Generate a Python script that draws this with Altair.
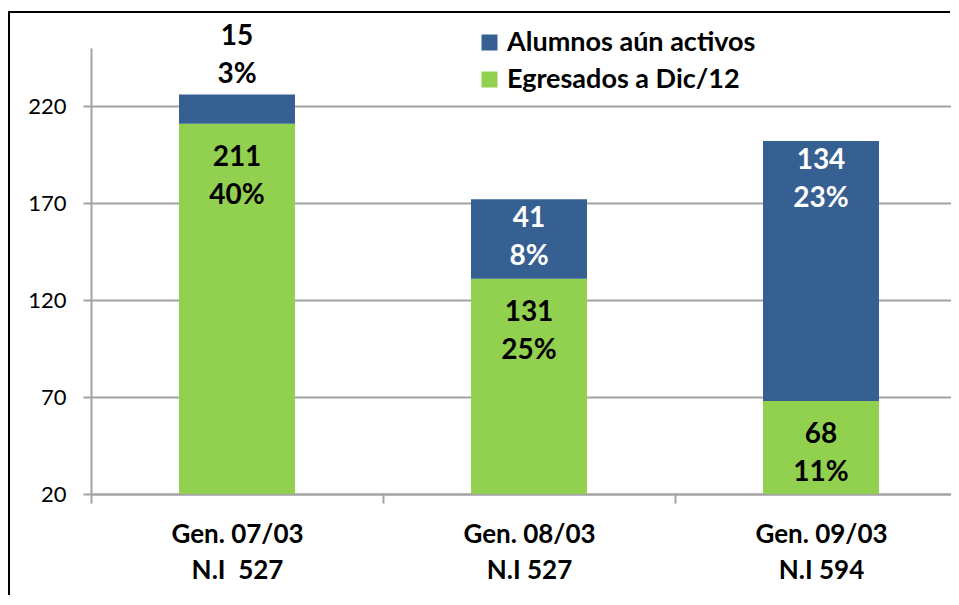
import altair as alt
import pandas as pd

# ---- data ----
generaciones = ["Gen. 07/03", "Gen. 08/03", "Gen. 09/03"]
ingreso = ["N.I\u00a0\u00a0527", "N.I 527", "N.I 594"]
series = ["Egresados a Dic/12", "Alumnos aún activos"]
egresados = [211, 131, 68]
egresados_pct = ["40%", "25%", "11%"]
activos = [15, 41, 134]
activos_pct = ["3%", "8%", "23%"]
y_ticks = [20, 70, 120, 170, 220]

BLUE = "#376092"
GREEN = "#92D050"
GRID = "#A3A3A3"
FONT = "Lato"

W, H = 860, 446
PAD = {"left": 83, "top": 40, "right": 0, "bottom": 102}

rows = []
for i, g in enumerate(generaciones):
    cat = g + "|" + ingreso[i]
    rows.append({"cat": cat, "serie": series[0], "ord": 0,
                 "value": egresados[i], "pct": egresados_pct[i]})
    rows.append({"cat": cat, "serie": series[1], "ord": 1,
                 "value": activos[i], "pct": activos_pct[i]})
df = pd.DataFrame(rows)
cats = [g + "|" + ingreso[i] for i, g in enumerate(generaciones)]

base = alt.Chart(df).transform_stack(
    stack="value", groupby=["cat"], sort=[alt.SortField("ord")], as_=["v0", "v1"]
).transform_calculate(
    lbl="datum.value + '\\n' + datum.pct"
)

x_enc = alt.X("cat:N", sort=cats, title=None,
              scale=alt.Scale(range=[0, 876], paddingInner=0, paddingOuter=0),
              axis=alt.Axis(labelExpr="split(datum.label, '|')", labelAngle=0,
                            labelFont=FONT, labelFontSize=26, labelFontWeight="bold",
                            labelColor="black", labelLineHeight=36, labelPadding=18,
                            tickBand="extent", tickSize=9, tickColor=GRID, tickWidth=2,
                            domainColor=GRID, domainWidth=2, grid=False))

bars = base.mark_bar(width=alt.RelativeBandSize(116 / 292), clip=True).encode(
    x=x_enc,
    y=alt.Y("v0:Q", title=None,
            scale=alt.Scale(domain=[20, 250], zero=False, nice=False),
            axis=alt.Axis(values=y_ticks, labelFont=FONT, labelFontSize=22,
                          labelColor="black", labelPadding=17, tickSize=8,
                          tickColor=GRID, tickWidth=2, domainColor=GRID,
                          domainWidth=2, gridColor=GRID, gridWidth=2)),
    y2="v1:Q",
    color=alt.Color("serie:N",
                    scale=alt.Scale(domain=[series[1], series[0]], range=[BLUE, GREEN]),
                    legend=alt.Legend(title=None, orient="none", legendX=385, legendY=-19,
                                      symbolType="square", symbolSize=256,
                                      symbolStrokeWidth=0, symbolOpacity=1,
                                      labelFont=FONT, labelFontSize=27,
                                      labelFontWeight="bold", labelColor="black",
                                      labelOffset=4, rowPadding=9, labelLimit=400)),
)

txt_common = dict(font=FONT, fontSize=28, fontWeight="bold", lineBreak="\n",
                  lineHeight=38, align="center")

lbl_green = base.transform_filter("datum.ord == 0").mark_text(
    baseline="top", dy=20, color="black", **txt_common
).encode(x=alt.X("cat:N", sort=cats), y="v1:Q", text="lbl:N")

lbl_blue_in = base.transform_filter("datum.ord == 1 && datum.value >= 20").mark_text(
    baseline="top", dy=6, color="white", **txt_common
).encode(x=alt.X("cat:N", sort=cats), y="v1:Q", text="lbl:N")

lbl_blue_out = base.transform_filter("datum.ord == 1 && datum.value < 20").mark_text(
    baseline="top", dy=-72, color="black", **txt_common
).encode(x=alt.X("cat:N", sort=cats), y="v1:Q", text="lbl:N")

# outer chart frame (decoration): two thin filled strips along top and left
frame_src = alt.Chart(alt.Data(values=[{"f": 1}]))
frame_top = frame_src.mark_rect(color="black", strokeWidth=0, clip=False).encode(
    x=alt.value(-83), x2=alt.value(W - 1), y=alt.value(-37), y2=alt.value(-35))
frame_left = frame_src.mark_rect(color="black", strokeWidth=0, clip=False).encode(
    x=alt.value(-83), x2=alt.value(-81), y=alt.value(-37), y2=alt.value(H + PAD["bottom"] - 1))

chart = alt.layer(bars, lbl_green, lbl_blue_in, lbl_blue_out,
                  frame_top, frame_left).properties(
    width=W, height=H,
    autosize=alt.AutoSizeParams(type="none"),
    padding=PAD,
).configure_view(stroke=None)

chart.save("out.html", embed_options={"renderer": "svg", "actions": False})
